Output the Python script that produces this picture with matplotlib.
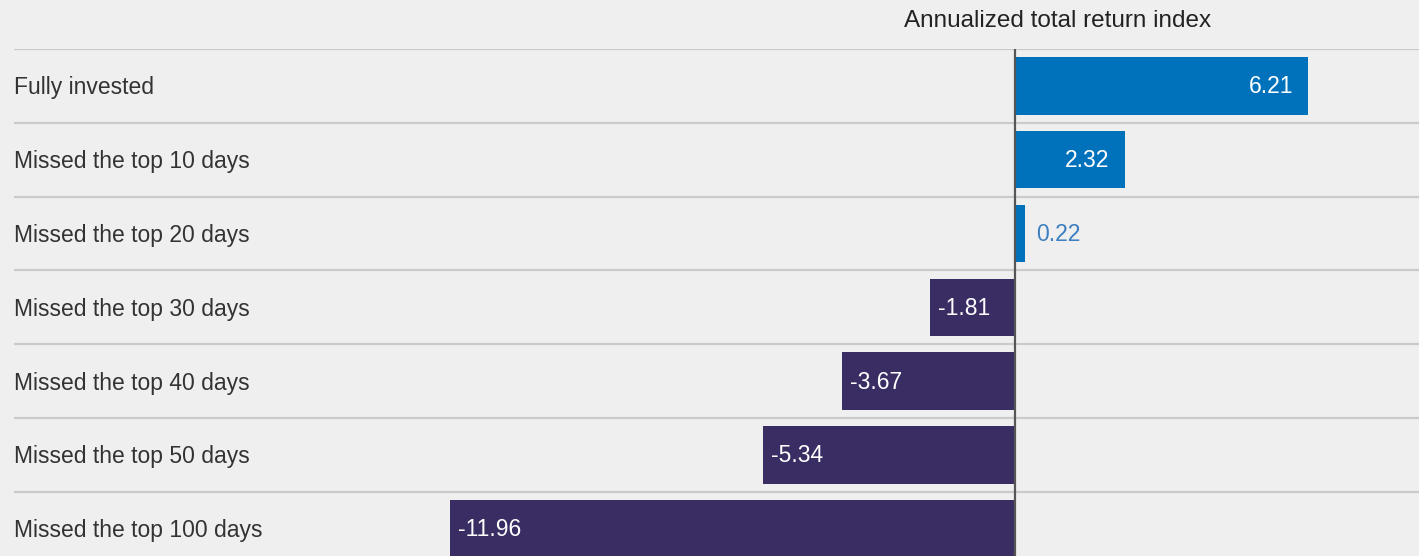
import matplotlib
matplotlib.use("Agg")
import matplotlib.pyplot as plt

categories = [
    "Fully invested",
    "Missed the top 10 days",
    "Missed the top 20 days",
    "Missed the top 30 days",
    "Missed the top 40 days",
    "Missed the top 50 days",
    "Missed the top 100 days",
]
values = [6.21, 2.32, 0.22, -1.81, -3.67, -5.34, -11.96]
title = "Annualized total return index"

BG = "#efefef"
BLUE = "#0072bc"
PURPLE = "#3a2d63"
GRID = "#cacaca"
TEXT = "#333333"

plt.rcParams["font.family"] = ["Liberation Sans", "DejaVu Sans"]

W, H = 1419, 556
fig = plt.figure(figsize=(W / 100, H / 100), dpi=100, facecolor=BG)

row_h = 73.8
top_px = 49
left_px = 14
n = len(categories)
ax_h = row_h * n
ax = fig.add_axes([left_px / W, (H - top_px - ax_h) / H, 1 - left_px / W, ax_h / H])
ax.set_facecolor(BG)

zero_px = 1015
scale = 47.2  # pixels per unit
ax.set_xlim((left_px - zero_px) / scale, (W - zero_px) / scale)
ax.set_ylim(n - 0.5, -0.5)

ypos = list(range(n))
colors = [BLUE if v >= 0 else PURPLE for v in values]
ax.barh(ypos, values, height=0.78, color=colors, zorder=2)

for y in range(n + 1):
    ax.axhline(y - 0.5, color=GRID, lw=1.6, zorder=1)
ax.axvline(0, color="#555555", lw=1.6, zorder=3)

FS = 16.5
for y, (cat, v) in enumerate(zip(categories, values)):
    ax.annotate(cat, (0, y), xycoords=ax.get_yaxis_transform(), xytext=(0, -2),
                textcoords="offset pixels", ha="left", va="center",
                fontsize=FS, color=TEXT)
    label = f"{v:.2f}"
    if v >= 1:
        ax.annotate(label, (v, y), xytext=(-15, -1), textcoords="offset pixels",
                    ha="right", va="center", fontsize=FS, color="white", zorder=4)
    elif v >= 0:
        ax.annotate(label, (v, y), xytext=(11, -1), textcoords="offset pixels",
                    ha="left", va="center", fontsize=FS, color="#3d7fc0", zorder=4)
    else:
        ax.annotate(label, (v, y), xytext=(8, -1), textcoords="offset pixels",
                    ha="left", va="center", fontsize=FS, color="white", zorder=4)

fig.text(1058 / W, 1 - 21 / H, title, ha="center", va="center", fontsize=17.5, color="#222222")

for s in ax.spines.values():
    s.set_visible(False)
ax.set_xticks([])
ax.set_yticks([])

fig.savefig("out.png", dpi=100, facecolor=BG)
